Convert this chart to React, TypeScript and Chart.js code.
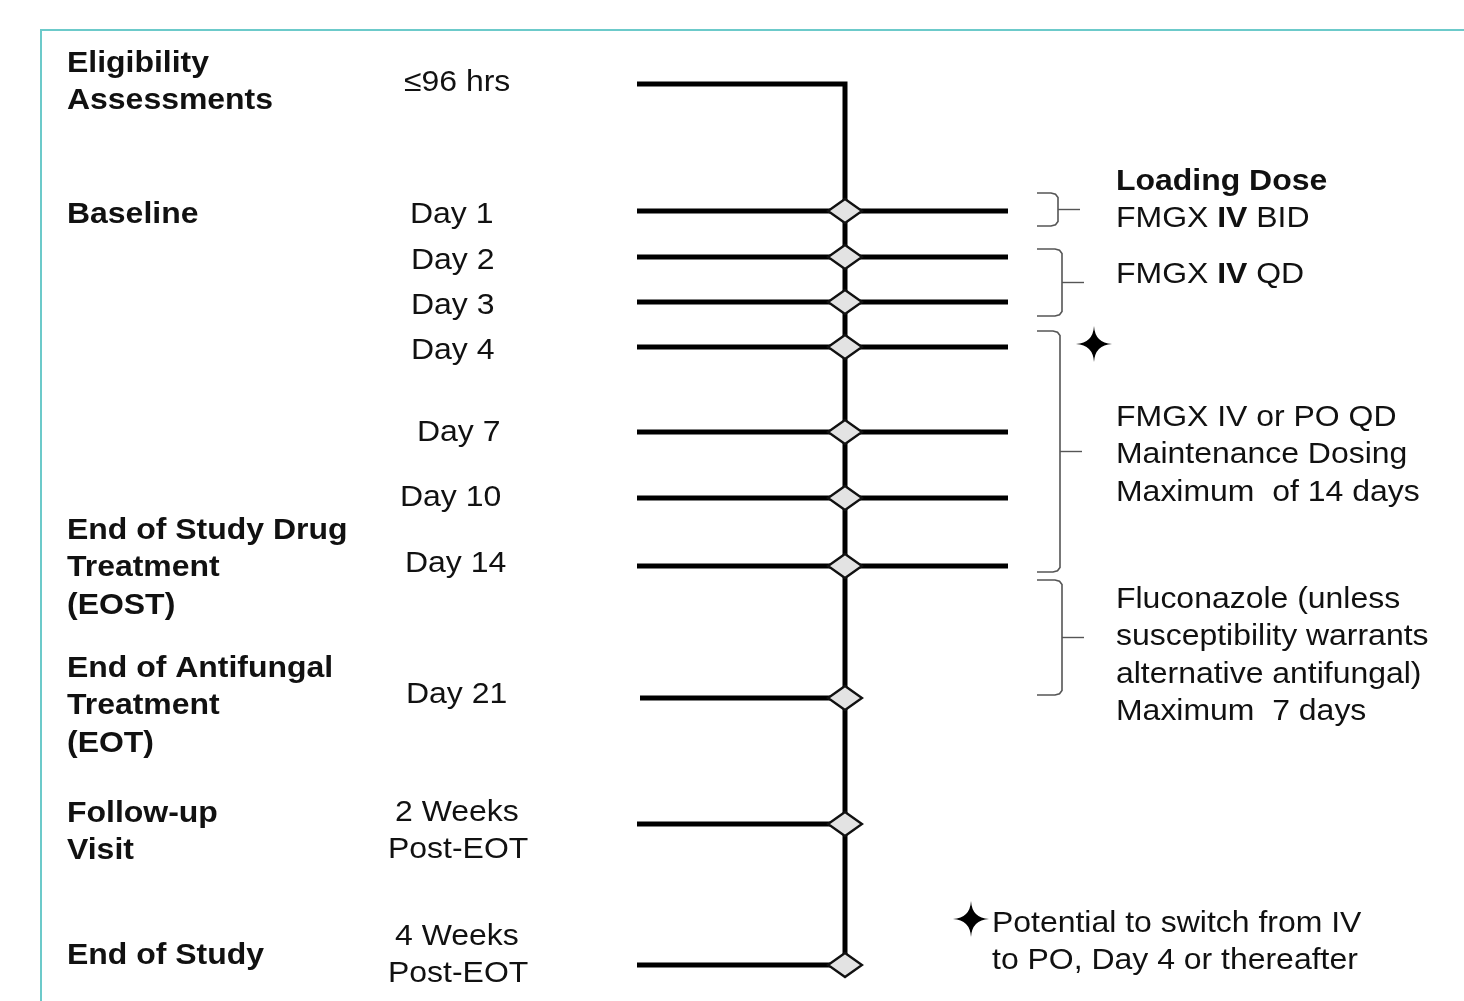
import React, { useEffect, useRef } from "react";
import { Chart, registerables } from "chart.js";

Chart.register(...registerables);

const CANVAS_W = 1464;
const CANVAS_H = 1001;

// ---- Timeline visits (top to bottom) ----
const visitLabels: string[][] = [
  ["≤96 hrs"],
  ["Day 1"],
  ["Day 2"],
  ["Day 3"],
  ["Day 4"],
  ["Day 7"],
  ["Day 10"],
  ["Day 14"],
  ["Day 21"],
  ["2 Weeks", "Post-EOT"],
  ["4 Weeks", "Post-EOT"],
];
const visitRow = [84, 211, 257, 302, 347, 432, 498, 566, 698, 824, 965];
const visitLineStart = [637, 637, 637, 637, 637, 637, 637, 637, 640, 637, 637];
const visitLineEnd = [845, 1008, 1008, 1008, 1008, 1008, 1008, 1008, 845, 845, 845];
const visitHasMarker = [false, true, true, true, true, true, true, true, true, true, true];
const visitLabelX: number[][] = [[404], [410], [411], [411], [411], [417], [400], [405], [406], [395, 388], [395, 388]];
const visitLabelBaseline = [91, 223, 269, 314, 359, 441, 506, 572, 703, 821, 945];

// ---- Study stages (left column) ----
const stageLabels: string[][] = [
  ["Eligibility", "Assessments"],
  ["Baseline"],
  ["End of Study Drug", "Treatment", "(EOST)"],
  ["End of Antifungal", "Treatment", "(EOT)"],
  ["Follow-up", "Visit"],
  ["End of Study"],
];
const stageBaseline = [72, 223, 539, 677, 822, 964];
const stageX = 67;

// ---- Dosing brackets and notes (right column) ----
const bracketTop = [193, 249, 331, 580];
const bracketBottom = [226, 316, 572, 695];
const bracketSpineX = [1058, 1062, 1060, 1062];
const bracketOpenX = 1037;
const bracketTickLen = 22;
const doseNotes: string[][] = [
  ["*Loading Dose*", "FMGX *IV* BID"],
  ["FMGX *IV* QD"],
  ["FMGX IV or PO QD", "Maintenance Dosing", "Maximum  of 14 days"],
  ["Fluconazole (unless", "susceptibility warrants", "alternative antifungal)", "Maximum  7 days"],
];
const doseNoteBaseline = [190, 283, 426, 608];
const doseNoteX = 1116;

// ---- Switch markers and footnote ----
const starX = [1094, 971];
const starY = [344, 919];
const footnoteLines = ["Potential to switch from IV", "to PO, Day 4 or thereafter"];
const footnoteX = 992;
const footnoteBaseline = 932;

const axisX = 845;
const LINE_GAP = 37.3;
const FONT_PX = 30;
const STRETCH_X = 1.065;
const FONT_FAMILY = '"Liberation Sans", Arial, Helvetica, sans-serif';
const TEAL = "rgb(108, 202, 202)";

function makeDiamond(): HTMLCanvasElement {
  const c = document.createElement("canvas");
  c.width = 38;
  c.height = 28;
  const g = c.getContext("2d")!;
  g.beginPath();
  g.moveTo(19, 2);
  g.lineTo(36, 14);
  g.lineTo(19, 26);
  g.lineTo(2, 14);
  g.closePath();
  g.fillStyle = "#e3e3e3";
  g.fill();
  g.lineWidth = 2.4;
  g.strokeStyle = "#111";
  g.lineJoin = "miter";
  g.stroke();
  return c;
}

function makeStar(): HTMLCanvasElement {
  const c = document.createElement("canvas");
  c.width = 38;
  c.height = 38;
  const g = c.getContext("2d")!;
  g.translate(19, 19);
  const r = 18;
  const k = 1.0;
  g.beginPath();
  g.moveTo(0, -r);
  g.quadraticCurveTo(k, -k, r, 0);
  g.quadraticCurveTo(k, k, 0, r);
  g.quadraticCurveTo(-k, k, -r, 0);
  g.quadraticCurveTo(-k, -k, 0, -r);
  g.closePath();
  g.fillStyle = "#000";
  g.fill();
  return c;
}

function drawRich(ctx: CanvasRenderingContext2D, markup: string, x: number, y: number, baseBold: boolean) {
  const parts = markup.split("*");
  ctx.save();
  ctx.translate(x, y);
  ctx.scale(STRETCH_X, 1);
  ctx.textBaseline = "alphabetic";
  ctx.textAlign = "left";
  ctx.fillStyle = "#111";
  let cx = 0;
  parts.forEach((p, i) => {
    if (!p) return;
    const bold = baseBold || i % 2 === 1;
    ctx.font = `${bold ? "bold " : ""}${FONT_PX}px ${FONT_FAMILY}`;
    ctx.fillText(p, cx, 0);
    cx += ctx.measureText(p).width;
  });
  ctx.restore();
}

const textPlugin = {
  id: "diagramTexts",
  afterDatasetsDraw(chart: any) {
    const ctx: CanvasRenderingContext2D = chart.ctx;
    const xs = chart.scales.x;
    const ys = chart.scales.y;
    const px = (v: number) => xs.getPixelForValue(v);
    const py = (v: number) => ys.getPixelForValue(v);

    stageLabels.forEach((lines, i) => {
      lines.forEach((t, j) => drawRich(ctx, t, px(stageX), py(stageBaseline[i] + j * LINE_GAP), true));
    });
    visitLabels.forEach((lines, i) => {
      lines.forEach((t, j) => drawRich(ctx, t, px(visitLabelX[i][j]), py(visitLabelBaseline[i] + j * LINE_GAP), false));
    });
    doseNotes.forEach((lines, i) => {
      lines.forEach((t, j) => drawRich(ctx, t, px(doseNoteX), py(doseNoteBaseline[i] + j * LINE_GAP), false));
    });
    footnoteLines.forEach((t, j) => drawRich(ctx, t, px(footnoteX), py(footnoteBaseline + j * LINE_GAP), false));
  },
};

export default function App() {
  const ref = useRef<HTMLCanvasElement | null>(null);

  useEffect(() => {
    if (!ref.current) return;
    document.body.style.margin = "0";
    const diamond = makeDiamond();
    const star = makeStar();

    const lineBase = {
      showLine: true,
      pointRadius: 0,
      pointHoverRadius: 0,
      fill: false,
      tension: 0,
    };

    const datasets: any[] = [];

    // frame
    datasets.push({
      ...lineBase,
      data: [
        { x: 41, y: CANVAS_H },
        { x: 41, y: 30 },
        { x: CANVAS_W, y: 30 },
      ],
      borderColor: TEAL,
      borderWidth: 2,
      order: 20,
    });

    // main spine with the screening corner
    const last = visitRow.length - 1;
    datasets.push({
      ...lineBase,
      data: [
        { x: visitLineStart[0], y: visitRow[0] },
        { x: axisX, y: visitRow[0] },
        { x: axisX, y: visitRow[last] },
      ],
      borderColor: "#000",
      borderWidth: 5,
      borderJoinStyle: "miter",
      borderCapStyle: "butt",
      order: 5,
    });

    // visit lines
    visitRow.forEach((row, i) => {
      if (i === 0) return;
      datasets.push({
        ...lineBase,
        data: [
          { x: visitLineStart[i], y: row },
          { x: visitLineEnd[i], y: row },
        ],
        borderColor: "#000",
        borderWidth: 5,
        borderCapStyle: "butt",
        order: 5,
      });
    });

    // diamonds
    datasets.push({
      data: visitRow
        .map((row, i) => (visitHasMarker[i] ? { x: axisX, y: row } : null))
        .filter(Boolean),
      pointStyle: diamond,
      pointRadius: 12,
      pointHoverRadius: 12,
      showLine: false,
      order: 0,
    });

    // brackets
    bracketTop.forEach((top, i) => {
      const bottom = bracketBottom[i];
      const sx = bracketSpineX[i];
      datasets.push({
        ...lineBase,
        data: [
          { x: bracketOpenX, y: top },
          { x: sx - 7, y: top },
          { x: sx - 2.5, y: top + 1.2 },
          { x: sx, y: top + 4.5 },
          { x: sx, y: bottom - 4.5 },
          { x: sx - 2.5, y: bottom - 1.2 },
          { x: sx - 7, y: bottom },
          { x: bracketOpenX, y: bottom },
        ],
        borderColor: "#555",
        borderWidth: 1.6,
        order: 6,
      });
      const mid = (top + bottom) / 2;
      datasets.push({
        ...lineBase,
        data: [
          { x: sx, y: mid },
          { x: sx + bracketTickLen, y: mid },
        ],
        borderColor: "#555",
        borderWidth: 1.4,
        order: 6,
      });
    });

    // stars
    datasets.push({
      data: starX.map((x, i) => ({ x, y: starY[i] })),
      pointStyle: star,
      pointRadius: 12,
      pointHoverRadius: 12,
      showLine: false,
      order: 1,
    });

    const chart = new Chart(ref.current, {
      type: "scatter",
      data: { datasets },
      options: {
        animation: false,
        responsive: false,
        maintainAspectRatio: false,
        devicePixelRatio: 1,
        layout: { padding: 0, autoPadding: false },
        events: [],
        clip: false,
        plugins: {
          legend: { display: false },
          tooltip: { enabled: false },
        },
        scales: {
          x: { type: "linear", min: 0, max: CANVAS_W, display: false },
          y: { type: "linear", min: 0, max: CANVAS_H, reverse: true, display: false },
        },
      },
      plugins: [textPlugin],
    });

    return () => chart.destroy();
  }, []);

  return (
    <div style={{ position: "fixed", left: 0, top: 0, width: CANVAS_W, height: CANVAS_H, background: "#fff" }}>
      <canvas ref={ref} width={CANVAS_W} height={CANVAS_H} style={{ display: "block" }} />
    </div>
  );
}
